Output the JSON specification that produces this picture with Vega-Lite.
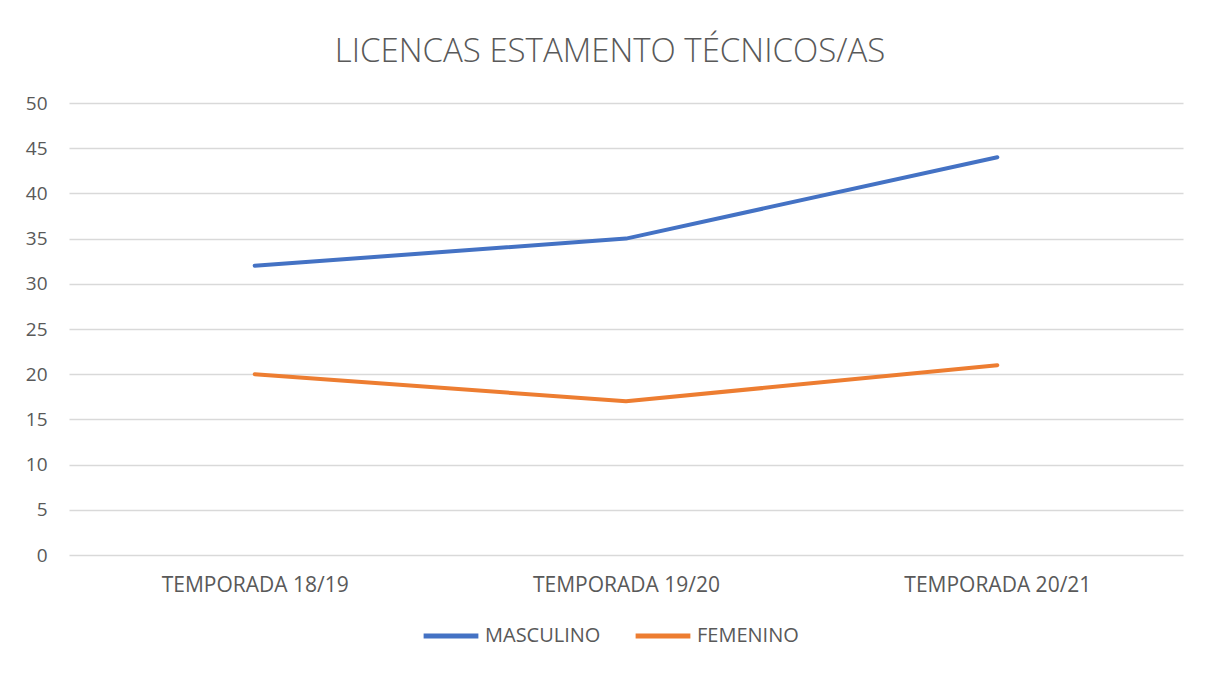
{
  "$schema": "https://vega.github.io/schema/vega-lite/v6.json",
  "width": 1114,
  "height": 452,
  "autosize": {"type": "none"},
  "padding": {"left": 69, "top": 103, "right": 26, "bottom": 119},
  "background": "white",
  "view": {"stroke": null},
  "title": {
    "text": "LICENCAS ESTAMENTO TÉCNICOS/AS",
    "font": "Open Sans",
    "fontWeight": 300,
    "fontSize": 33,
    "color": "#595959",
    "anchor": "middle",
    "frame": "group",
    "dx": -16,
    "offset": 25
  },
  "data": {
    "values": [
      {"temporada": "TEMPORADA 18/19", "sexo": "MASCULINO", "licencias": 32},
      {"temporada": "TEMPORADA 19/20", "sexo": "MASCULINO", "licencias": 35},
      {"temporada": "TEMPORADA 20/21", "sexo": "MASCULINO", "licencias": 44},
      {"temporada": "TEMPORADA 18/19", "sexo": "FEMENINO", "licencias": 20},
      {"temporada": "TEMPORADA 19/20", "sexo": "FEMENINO", "licencias": 17},
      {"temporada": "TEMPORADA 20/21", "sexo": "FEMENINO", "licencias": 21}
    ]
  },
  "mark": {"type": "line", "strokeWidth": 4, "strokeCap": "round", "strokeJoin": "round"},
  "encoding": {
    "x": {
      "field": "temporada",
      "type": "ordinal",
      "scale": {"type": "point", "padding": 0.5},
      "axis": {
        "title": null,
        "labelAngle": 0,
        "ticks": false,
        "domain": false,
        "grid": false,
        "labelLimit": 0,
        "labelFont": "Open Sans",
        "labelFontSize": 21,
        "labelColor": "#595959",
        "labelPadding": 19
      }
    },
    "y": {
      "field": "licencias",
      "type": "quantitative",
      "scale": {"domain": [0, 50], "nice": false},
      "axis": {
        "title": null,
        "values": [0, 5, 10, 15, 20, 25, 30, 35, 40, 45, 50],
        "ticks": false,
        "domain": false,
        "gridColor": "#D9D9D9",
        "gridWidth": 1.3,
        "labelFont": "Open Sans",
        "labelFontSize": 19,
        "labelColor": "#595959",
        "labelPadding": 22
      }
    },
    "color": {
      "field": "sexo",
      "type": "nominal",
      "scale": {"domain": ["MASCULINO", "FEMENINO"], "range": ["#4472C4", "#ED7D31"]},
      "legend": {
        "title": null,
        "orient": "none",
        "direction": "horizontal",
        "legendX": 352,
        "legendY": 503,
        "symbolType": "stroke",
        "symbolSize": 3000,
        "symbolStrokeWidth": 5,
        "labelLimit": 0,
        "labelFont": "Open Sans",
        "labelFontSize": 20,
        "labelColor": "#595959",
        "labelOffset": 4,
        "columnPadding": 24
      }
    }
  }
}
